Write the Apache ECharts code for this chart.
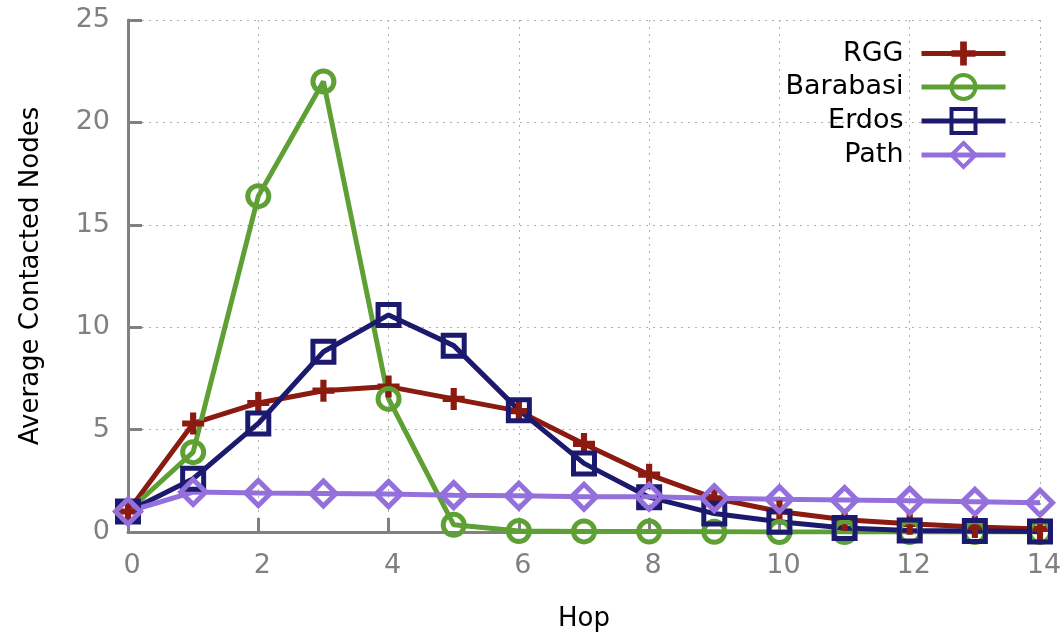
<!DOCTYPE html>
<html>
<head>
<meta charset="utf-8">
<script src="https://cdn.jsdelivr.net/npm/echarts@6/dist/echarts.min.js"></script>
<style>
  html, body { margin: 0; padding: 0; background: #fff; }
  #chart { width: 1063px; height: 634px; }
</style>
</head>
<body>
<div id="chart"></div>
<script>
// hops on the x axis
var hops = [0, 1, 2, 3, 4, 5, 6, 7, 8, 9, 10, 11, 12, 13, 14];

// average contacted nodes per hop
var rgg      = [1.0, 5.3, 6.3, 6.9, 7.1, 6.5, 5.9, 4.3, 2.8, 1.65, 1.0, 0.6, 0.4, 0.25, 0.15];
var barabasi = [1.0, 3.9, 16.4, 22.0, 6.5, 0.35, 0.05, 0.03, 0.02, 0.01, 0.0, 0.0, 0.0, 0.0, 0.0];
var erdos    = [1.0, 2.6, 5.3, 8.8, 10.6, 9.1, 5.95, 3.35, 1.7, 0.9, 0.5, 0.2, 0.07, 0.05, 0.03];
var path     = [1.0, 1.95, 1.9, 1.88, 1.85, 1.8, 1.77, 1.72, 1.72, 1.65, 1.6, 1.56, 1.52, 1.48, 1.43];

var yTicks = [0, 5, 10, 15, 20, 25];

var font = 'DejaVu Sans';
var plus = 'path://M-1.4,-5 L1.4,-5 L1.4,-1.4 L5,-1.4 L5,1.4 L1.4,1.4 L1.4,5 L-1.4,5 L-1.4,1.4 L-5,1.4 L-5,-1.4 L-1.4,-1.4 Z';

function pairs(vals) {
    return hops.map((h, i) => [h, vals[i]]);
}

function makeSeries(name, vals, color, symbol, size, hollow) {
    return {
        name: name,
        type: 'line',
        data: pairs(vals),
        symbol: symbol,
        symbolSize: size,
        showAllSymbol: true,
        lineStyle: { color: color, width: 5 },
        itemStyle: hollow
            ? { color: 'rgba(0,0,0,0)', borderColor: color, borderWidth: 5 }
            : { color: color, borderWidth: 0 },
        color: color,
        emphasis: { disabled: true },
        animation: false
    };
}

var chart = echarts.init(document.getElementById('chart'));
var option = {
    backgroundColor: '#fff',
    animation: false,
    grid: { left: 128, right: 23, top: 20, bottom: 102, outerBoundsMode: 'none' },
    legend: {
        right: 50,
        top: 35,
        orient: 'vertical',
        align: 'right',
        itemWidth: 84,
        itemHeight: 30,
        itemGap: 6,
        lineStyle: { width: 5 },
        textStyle: { fontFamily: font, fontSize: 27, lineHeight: 26, color: '#000', padding: [0, 13, 0, 0] },
        data: [
            { name: 'RGG' },
            { name: 'Barabasi', itemStyle: { borderWidth: 4 } },
            { name: 'Erdos', itemStyle: { borderWidth: 4 } },
            { name: 'Path', itemStyle: { borderWidth: 4 } }
        ]
    },
    xAxis: {
        type: 'value',
        min: 0,
        max: 14,
        interval: 2,
        name: 'Hop',
        nameLocation: 'middle',
        nameGap: 74,
        nameTextStyle: { fontFamily: font, fontSize: 26, color: '#000' },
        axisLine: { lineStyle: { color: '#808080', width: 3 } },
        axisTick: { inside: true, length: 14, lineStyle: { color: '#808080', width: 3 } },
        axisLabel: { fontFamily: font, fontSize: 27, color: '#808080', margin: 20, padding: [0, 0, 0, 8] },
        splitLine: { show: true, lineStyle: { color: '#b0b0b0', width: 1, type: [2, 5] } }
    },
    yAxis: {
        type: 'value',
        min: yTicks[0],
        max: yTicks[yTicks.length - 1],
        interval: 5,
        name: 'Average Contacted Nodes',
        nameLocation: 'middle',
        nameGap: 84,
        nameTextStyle: { fontFamily: font, fontSize: 26, color: '#000' },
        axisLine: { show: true, lineStyle: { color: '#808080', width: 3 } },
        axisTick: { show: true, inside: true, length: 14, lineStyle: { color: '#808080', width: 3 } },
        axisLabel: { fontFamily: font, fontSize: 27, color: '#808080', margin: 18 },
        splitLine: { show: true, lineStyle: { color: '#b0b0b0', width: 1, type: [2, 5] } }
    },
    series: [
        makeSeries('RGG', rgg, '#8b1a10', plus, 22, false),
        makeSeries('Barabasi', barabasi, '#5fa035', 'circle', 21, true),
        makeSeries('Erdos', erdos, '#1c1a6e', 'rect', 21, true),
        makeSeries('Path', path, '#9370db', 'diamond', 25, true)
    ]
};
chart.setOption(option);
</script>
</body>
</html>
